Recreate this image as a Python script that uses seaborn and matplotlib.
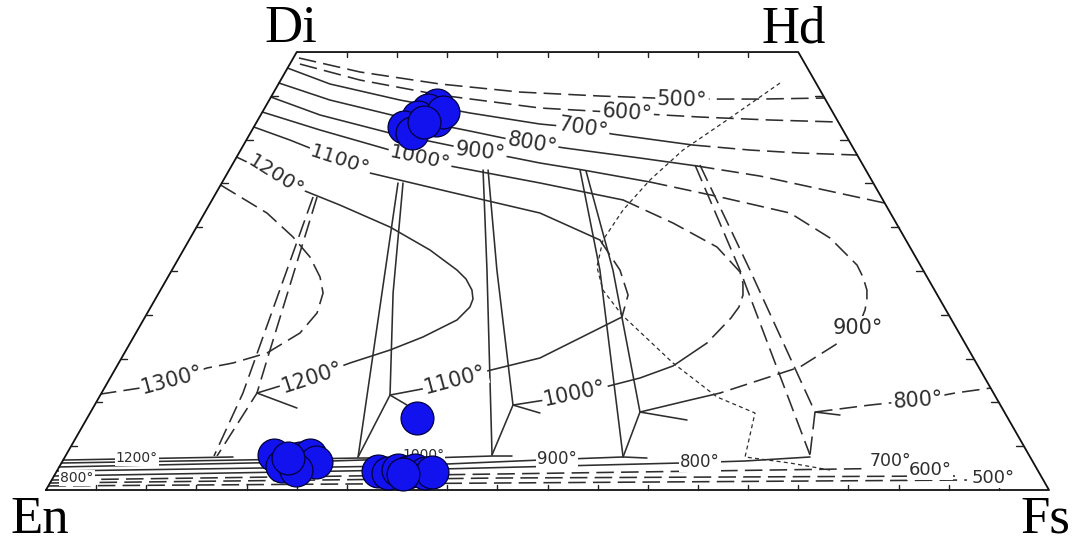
import matplotlib
matplotlib.use("Agg")
import matplotlib.pyplot as plt
import numpy as np
import pandas as pd
import seaborn as sns

# Compositions in mol % : Wo and Fs (En = 100 - Wo - Fs)

# ---- augite-side isotherms ----
aug500_fs = [0.56, 7.45, 16.11, 24.54, 32.74, 41.09, 48.87, 55.25]
aug500_wo = [49.32, 47.72, 46.35, 45.43, 44.98, 44.63, 44.63, 44.75]
aug600_fs = [1.0, 7.91, 16.73, 27.45, 36.41, 43.91, 51.06, 57.99]
aug600_wo = [48.63, 46.80, 45.09, 43.61, 43.04, 42.58, 42.24, 42.01]
aug700_fs = [0.0, 5.14, 13.03, 20.75, 28.36, 32.88, 36.11, 44.82, 50.78, 55.93, 61.76]
aug700_wo = [48.17, 46.35, 44.52, 43.04, 41.78, 41.32, 40.64, 39.38, 38.81, 38.47, 38.24]
aug800_fs = [0.0, 6.05, 14.0, 21.78, 26.03, 28.64, 32.22, 40.27, 46.41, 53.27, 59.99, 67.24]
aug800_wo = [46.46, 44.52, 42.58, 40.98, 40.07, 39.61, 39.04, 37.90, 36.99, 35.84, 34.36, 32.76]
aug900_fs = [0.0, 5.92, 13.92, 20.95, 23.98, 27.26, 30.59, 35.28, 42.64, 50.48, 58.37,
             63.78, 68.02, 69.29, 70.43, 71.0, 71.38, 71.71, 70.38, 68.15, 64.91, 61.66,
             59.07, 54.77]
aug900_wo = [44.86, 42.81, 40.75, 39.27, 38.58, 38.01, 37.33, 36.53, 35.16, 33.45, 31.62,
             28.77, 25.68, 24.32, 22.83, 21.69, 20.55, 18.49, 16.55, 14.04, 12.56, 11.07,
             10.27, 8.90]
aug1000_fs = [0.0, 6.77, 14.89, 18.34, 21.79, 31.73, 40.98, 47.27, 53.03, 56.75, 57.67,
              58.36, 58.64, 58.47, 57.51, 55.43, 52.83, 49.85, 47.20, 44.61, 41.71]
aug1000_wo = [43.15, 41.10, 38.81, 37.90, 36.99, 35.05, 33.11, 30.48, 27.74, 24.89, 23.63,
              22.26, 20.89, 19.63, 16.78, 14.16, 12.79, 11.76, 11.07, 10.27, 9.70]
aug1100_fs = [0.0, 4.35, 10.47, 14.20, 23.27, 33.44, 40.96, 44.67, 46.90, 47.55, 44.56,
              41.71, 36.83, 34.50, 32.17, 28.88]
aug1100_wo = [41.44, 39.95, 37.67, 36.19, 34.02, 31.62, 28.54, 25.11, 22.26, 19.75, 17.35,
              15.07, 13.47, 12.56, 11.64, 10.84]
aug1200_fs = [0.0, 3.98, 7.54, 13.04, 19.29, 24.58, 28.42, 29.83, 31.05, 31.67, 31.82,
              31.27, 28.85, 26.31, 23.06, 20.07, 17.39, 15.50]
aug1200_wo = [38.01, 36.30, 34.59, 32.53, 30.02, 27.40, 25.11, 24.09, 22.83, 21.80, 20.89,
              19.41, 17.47, 15.98, 14.50, 12.90, 11.87, 11.07]
aug1300_fs = [0.0, 6.22, 10.19, 13.02, 15.16, 16.38, 16.92, 16.36, 14.21, 11.39, 9.09,
              6.28, 3.55, 0.0]
aug1300_wo = [34.82, 31.62, 28.88, 26.60, 24.32, 22.49, 20.21, 17.92, 15.64, 14.50, 13.93,
              12.56, 11.64, 10.96]
pig800_fs = [72.22, 77.30, 81.80, 85.09, 88.36]
pig800_wo = [8.90, 9.70, 10.27, 11.07, 11.64]

# ---- three-phase triangles: Aug-Pig and Pig-Opx tie lines ----
tie1300_l_fs, tie1300_l_wo = [9.90, 14.10, 14.81], [33.45, 11.07, 3.88]
tie1300_r_fs, tie1300_r_wo = [10.30, 14.61, 15.50, 15.11], [33.45, 14.84, 11.07, 3.88]
tie1100_l_fs, tie1100_l_wo = [17.57, 29.23], [35.05, 3.77]
tie1100_r_fs, tie1100_r_wo = [18.07, 23.36, 28.88, 29.23], [35.05, 22.49, 10.84, 3.77]
tie1000_l_fs, tie1000_l_wo = [25.31, 31.41, 42.47], [36.53, 25.11, 4.0]
tie1000_r_fs, tie1000_r_wo = [25.81, 32.40, 41.71, 42.47], [36.53, 25.11, 9.70, 4.0]
tie900_l_fs, tie900_l_wo = [34.98, 42.67, 55.65], [36.53, 25.11, 3.77]
tie900_r_fs, tie900_r_wo = [35.63, 43.97, 54.77, 55.65], [36.42, 25.11, 8.90, 3.77]
tie800_l_fs, tie800_l_wo = [46.16, 56.63, 74.17], [37.10, 25.11, 4.0]
tie800_r_fs, tie800_r_wo = [46.65, 57.63, 72.22, 74.17], [37.10, 25.11, 8.90, 4.0]

# pigeonite isotherm stubs at the Pig corner of each triangle
stub1200_fs, stub1200_wo = [15.50, 20.34], [11.07, 9.36]
stub1100_fs, stub1100_wo = [28.88, 31.14], [10.84, 9.70]
stub1000_fs, stub1000_wo = [41.71, 44.85], [9.70, 8.79]
stub900_fs, stub900_wo = [54.77, 59.91], [8.90, 7.99]
stub800_fs, stub800_wo = [72.22, 74.88], [8.90, 8.56]

# pigeonite-in boundary
pigin_fs = [49.95, 46.78, 44.10, 42.52, 41.55, 41.26, 42.20, 44.11, 47.44, 55.26,
            61.59, 66.29, 67.81, 72.64, 77.02]
pigin_wo = [46.46, 42.24, 38.81, 35.39, 31.96, 28.54, 25.46, 22.83, 19.98, 14.50,
            10.62, 8.79, 3.77, 3.08, 2.28]

# ---- orthopyroxene isotherms along the En-Fs join ----
opx1200_fs, opx1200_wo = [0.0, 16.76], [3.42, 3.77]
opx1100_fs, opx1100_wo = [0.0, 29.28, 33.96], [3.08, 3.65, 3.65]
opx1000_fs, opx1000_wo = [0.0, 23.72, 42.53, 44.52], [2.63, 3.20, 3.88, 3.88]
opx900_fs, opx900_wo = [0.0, 33.92, 47.54, 55.65, 58.09], [2.17, 2.74, 3.42, 3.77, 3.65]
opx800_fs, opx800_wo = [0.0, 34.15, 61.67, 68.03, 74.29], [1.60, 2.28, 3.08, 3.31, 3.77]
opx700_fs, opx700_wo = [0.0, 44.35, 84.88], [1.14, 1.83, 2.51]
opx600_fs, opx600_wo = [0.0, 44.58, 89.83], [0.80, 1.37, 1.60]
opx500_fs, opx500_wo = [0.0, 44.86, 91.25], [0.46, 0.80, 1.14]

# ---- isotherm labels ----
label_text = ["500°", "600°", "700°", "800°", "900°", "1000°", "1100°", "1200°",
              "1200°", "1300°", "1100°", "1000°", "900°", "800°",
              "1200°", "800°", "1000°", "900°", "800°", "700°", "600°", "500°"]
label_fs = [41.15, 36.41, 32.88, 28.64, 23.98, 18.34, 10.47, 5.01,
            20.07, 6.28, 34.50, 47.20, 71.71, 81.80,
            7.24, 2.41, 35.59, 49.18, 63.60, 82.49, 86.99, 93.74]
label_wo = [44.52, 43.04, 41.32, 39.61, 38.58, 37.90, 37.67, 35.84,
            12.90, 12.56, 12.56, 11.07, 18.49, 10.27,
            3.65, 1.37, 4.0, 3.54, 3.20, 3.31, 2.28, 1.37]

# ---- pyroxene analyses ----
px_fs = [17.0, 16.4, 15.8, 14.97, 16.11, 17.76, 18.0, 16.69,
         32.88,
         20.73, 22.16, 22.93, 23.50, 24.32, 25.32, 23.79, 22.30,
         32.02, 33.13, 33.95, 35.07, 35.65, 36.82, 37.46, 34.68]
px_wo = [43.95, 43.38, 42.58, 41.44, 40.75, 42.24, 43.15, 42.01,
         8.22,
         4.0, 2.74, 3.20, 3.65, 4.0, 3.20, 2.28, 3.65,
         2.17, 1.94, 2.28, 2.05, 2.28, 1.94, 2.05, 1.83]

# frame corners (Fs, Wo) and scale ticks
corner_names = ["En", "Fs", "Hd", "Di"]
corner_fs = [0.0, 100.0, 50.0, 0.0]
corner_wo = [0.0, 0.0, 50.0, 50.0]
side_tick_wo = [5, 10, 15, 20, 25, 30, 35, 40, 45]
top_tick_fs = [5, 10, 15, 20, 25, 30, 35, 40, 45]
base_tick_fs = [5, 10, 15, 20, 25, 30, 35, 40, 45, 50, 55, 60, 65, 70, 75, 80, 85, 90, 95]

# ------------------------------------------------------------------ styling
INK = "#2e2e2e"
SOLID = "-"
LONG = (0, (11, 4.5))
FINE = (0, (3.2, 2.6))

label_rot = [-2, -4, -9, -10, -6, -12, -18, -32,
             18, 15, 15, 12, 0, 4,
             0, 0, 0, 0, 0, 0, 0, 0]
label_size = [15, 15, 15, 15, 15, 14.5, 14.5, 14.5,
              15, 15, 15, 15, 15, 15,
              10, 10, 10, 12, 12, 12.5, 13, 13]

# (fs, wo, [(start, end, style), ...])
curves = [
    (aug500_fs, aug500_wo, [(0, 7, LONG)]),
    (aug600_fs, aug600_wo, [(0, 7, LONG)]),
    (aug700_fs, aug700_wo, [(0, 7, SOLID), (7, 10, LONG)]),
    (aug800_fs, aug800_wo, [(0, 8, SOLID), (8, 11, LONG)]),
    (aug900_fs, aug900_wo, [(0, 8, SOLID), (8, 21, LONG), (21, 23, SOLID)]),
    (aug1000_fs, aug1000_wo, [(0, 6, SOLID), (6, 14, LONG), (14, 20, SOLID)]),
    (aug1100_fs, aug1100_wo, [(0, 6, SOLID), (6, 9, LONG), (9, 15, SOLID)]),
    (aug1200_fs, aug1200_wo, [(0, 17, SOLID)]),
    (aug1300_fs, aug1300_wo, [(0, 13, LONG)]),
    (pig800_fs, pig800_wo, [(0, 4, LONG)]),
    (tie1300_l_fs, tie1300_l_wo, [(0, 2, LONG)]),
    (tie1300_r_fs, tie1300_r_wo, [(0, 3, LONG)]),
    (tie1100_l_fs, tie1100_l_wo, [(0, 1, SOLID)]),
    (tie1100_r_fs, tie1100_r_wo, [(0, 3, SOLID)]),
    (tie1000_l_fs, tie1000_l_wo, [(0, 2, SOLID)]),
    (tie1000_r_fs, tie1000_r_wo, [(0, 3, SOLID)]),
    (tie900_l_fs, tie900_l_wo, [(0, 2, SOLID)]),
    (tie900_r_fs, tie900_r_wo, [(0, 3, SOLID)]),
    (tie800_l_fs, tie800_l_wo, [(0, 2, LONG)]),
    (tie800_r_fs, tie800_r_wo, [(0, 3, LONG)]),
    (stub1200_fs, stub1200_wo, [(0, 1, SOLID)]),
    (stub1100_fs, stub1100_wo, [(0, 1, SOLID)]),
    (stub1000_fs, stub1000_wo, [(0, 1, SOLID)]),
    (stub900_fs, stub900_wo, [(0, 1, SOLID)]),
    (stub800_fs, stub800_wo, [(0, 1, SOLID)]),
    (opx1200_fs, opx1200_wo, [(0, 1, SOLID)]),
    (opx1100_fs, opx1100_wo, [(0, 2, SOLID)]),
    (opx1000_fs, opx1000_wo, [(0, 3, SOLID)]),
    (opx900_fs, opx900_wo, [(0, 4, SOLID)]),
    (opx800_fs, opx800_wo, [(0, 4, SOLID)]),
    (opx700_fs, opx700_wo, [(0, 2, LONG)]),
    (opx600_fs, opx600_wo, [(0, 2, LONG)]),
    (opx500_fs, opx500_wo, [(0, 2, LONG)]),
]


def to_xy(fs, wo):
    """Ternary projection: En at x=0, Fs at x=100, Wo measured upward."""
    fs = np.asarray(fs, float)
    wo = np.asarray(wo, float)
    return fs + wo / 2.0, wo


def pt(fs, wo):
    x, y = to_xy(fs, wo)
    return float(x), float(y)


sns.set_theme(style="white")
plt.rcParams["font.family"] = ["DejaVu Sans"]

fig = plt.figure(figsize=(10.81, 5.42), dpi=100)
ax = fig.add_axes([0, 0, 1, 1])
ax.axis("off")

# group every segment by line style and hand each group to seaborn
groups = {}
seg_id = 0
for fs, wo, parts in curves:
    x, y = to_xy(fs, wo)
    for i0, i1, style in parts:
        key = str(style)
        groups.setdefault(key, (style, []))
        groups[key][1].append(pd.DataFrame({"x": x[i0:i1 + 1], "y": y[i0:i1 + 1],
                                            "seg": seg_id}))
        seg_id += 1

for key, (style, frames) in groups.items():
    df = pd.concat(frames, ignore_index=True)
    sns.lineplot(data=df, x="x", y="y", units="seg", estimator=None, sort=False,
                 color=INK, lw=1.15, linestyle=style, ax=ax, legend=False, zorder=2)

# pigeonite-in boundary (fine dashes)
bx, by = to_xy(pigin_fs, pigin_wo)
sns.lineplot(x=bx, y=by, sort=False, estimator=None, color=INK, lw=0.9,
             linestyle=FINE, ax=ax, legend=False, zorder=2)

# frame of the quadrilateral
cx, cy = to_xy(corner_fs + corner_fs[:1], corner_wo + corner_wo[:1])
sns.lineplot(x=cx, y=cy, sort=False, estimator=None, color="#111111", lw=1.3,
             ax=ax, legend=False, zorder=3)

# scale ticks on the four sides
tick_rows = []
for k, w in enumerate(side_tick_wo):
    x0, y0 = pt(0, w)
    tick_rows += [(x0, y0, k), (x0 + 0.6, y0, k)]
    x1, y1 = pt(100 - w, w)
    tick_rows += [(x1, y1, 100 + k), (x1 - 0.8, y1, 100 + k)]
for k, f in enumerate(top_tick_fs):
    x0, y0 = pt(f, 50)
    tick_rows += [(x0, y0, 200 + k), (x0, y0 - 0.6, 200 + k)]
for k, f in enumerate(base_tick_fs):
    x0, y0 = pt(f, 0)
    tick_rows += [(x0, y0, 300 + k), (x0, y0 + 0.6, 300 + k)]
ticks = pd.DataFrame(tick_rows, columns=["x", "y", "seg"])
sns.lineplot(data=ticks, x="x", y="y", units="seg", estimator=None, sort=False,
             color="#222222", lw=1.0, ax=ax, legend=False, zorder=3)

# isotherm labels
for txt, f, w, r, s in zip(label_text, label_fs, label_wo, label_rot, label_size):
    lx, ly = pt(f, w)
    ax.text(lx, ly, txt, rotation=r, rotation_mode="anchor",
            ha="center", va="center", fontsize=s, color=INK, zorder=4,
            bbox=dict(boxstyle="square,pad=0.08", fc="white", ec="none"))

# analysed pyroxenes
pxx, pxy = to_xy(px_fs, px_wo)
sns.scatterplot(x=pxx, y=pxy, s=560, color="#1212ee", edgecolor="#00003c",
                linewidth=0.9, ax=ax, legend=False, zorder=6)

# end-member names
offsets = {"En": (-4.3, -21.5), "Fs": (-2.9, -21.5), "Hd": (-3.6, 16.5), "Di": (-4.3, 16.5)}
for name, f, w in zip(corner_names, corner_fs, corner_wo):
    ax.annotate(name, xy=pt(f, w), xytext=offsets[name],
                textcoords="offset points", ha="center", va="center",
                fontsize=38, family="Liberation Serif", color="black", zorder=7)

ax.set_xlim(-4.586, 103.19)
ax.set_ylim(-5.936, 55.94)
ax.set_xlabel("")
ax.set_ylabel("")
fig.savefig("out.png", dpi=100, facecolor="white")
